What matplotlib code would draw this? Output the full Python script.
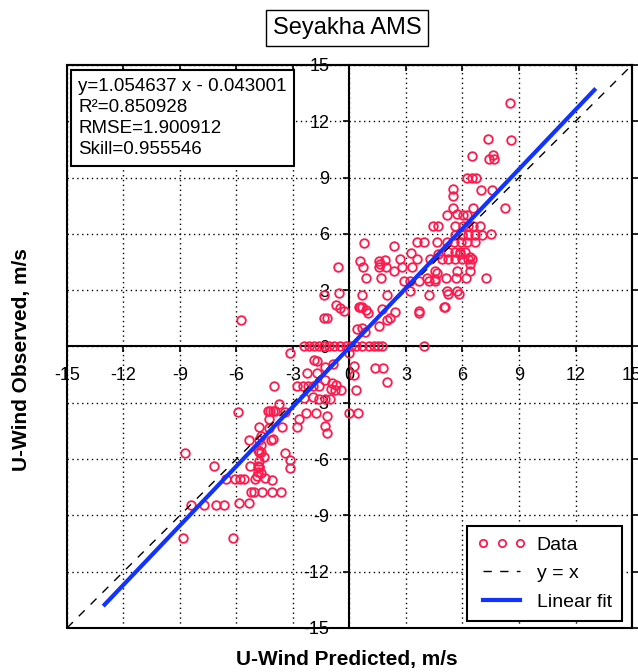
import matplotlib
matplotlib.use("Agg")
import matplotlib.pyplot as plt
from matplotlib.patches import Rectangle

plt.rcParams['font.family'] = ['Liberation Sans', 'DejaVu Sans']
plt.rcParams['axes.unicode_minus'] = False

# Predicted (x) and observed (y) U-wind values, m/s
predicted = [
    8.52, 7.34, 8.6, 6.51, 7.42, 7.64, 7.67, 6.23, 6.49, 6.72, 5.52, 5.52, 7.0, 7.57, 8.24,
    5.52, 6.58, 5.17, 5.7, 6.02, 6.26, 4.46, 4.72, 5.61, 6.02, 6.31, 6.58, 6.93,
    5.61, 5.96, 6.31, 6.67, 7.02, 7.5, 0.76, 2.38, 3.26,
    3.61, 3.93, 4.64, 5.2, 5.55, 5.9, 6.26, 6.67, 5.25, 5.61, 5.87, 6.14, 6.4, 4.72, 5.87,
    0.58, 1.58, 1.9, 2.7, 3.58, 4.25, 4.9, 5.25, 5.6, 5.96, 6.31, 6.49,
    0.7, 1.62, 1.58, 1.95, 2.35, 2.79, 3.32, -0.62,
    6.4, 6.4, 5.7, 4.64, 4.55,
    0.85, 1.68, 2.87, 3.23, 3.67, 4.11, 4.55, 4.55, 4.2, 5.1, 5.65, 6.17, 7.25,
    3.23, 4.2, 5.17, 5.25, 5.73, 5.84, 5.03, 3.7,
    0.67, 1.99, 0.56, 0.88, 0.97, 1.7, 2.43, 2.0, 2.17, 1.55, 0.38, 0.65, 0.8,
    0.48, 0.69, 3.7, 5.06,
    -0.7, -0.52, -0.3, -1.36, -0.57, -1.36, -1.18, -5.78,
    -2.42, -2.15, -1.89, -1.62, -1.36, -1.09, -0.8, -0.5, -0.2, 0.1, 0.35, 0.65, 1.05, 1.3,
    1.52, 1.75, 3.94,
    -3.17, 0.0, -1.89, -1.71, -1.28, -0.9, 0.23, 0.23, 1.34, 1.77, 1.99,
    -2.24, -1.75, -1.3, -0.95, -0.7, -1.6, -1.0, -0.75, -0.45, 0.32,
    -2.77, -2.47, -2.19, -1.94, -4.0,
    -2.4, -1.95, -1.6, -1.3, -1.05, -3.74,
    -4.35, -4.2, -4.08, -3.95, -3.4, -5.91, -2.33, -1.8, -1.22, -1.32, -1.22, 0.0, 0.45,
    -2.68, -4.28, -4.8, -4.25, -3.58, -2.81,
    -5.35, -4.8, -4.7, -4.15, -4.05, -4.72,
    -4.8, -4.88, -4.71, -4.53, -4.8, -4.88, -4.8, -5.27, -4.88, -4.71,
    -3.45, -3.16, -3.16, -8.72, -7.17, -4.83,
    -6.56, -6.08, -5.8, -5.6, -5.0, -4.9, -4.47, -4.1,
    -5.24, -5.06, -4.62, -4.09, -3.65, -5.88, -5.35,
    -8.4, -7.72, -7.09, -6.65, -8.86, -6.2,
]
observed = [
    13.0, 11.07, 10.98, 10.17, 10.0, 10.18, 10.0, 8.98, 8.98, 8.98, 8.37, 8.01, 8.33, 8.33, 7.37,
    7.39, 7.36, 7.0, 7.07, 7.0, 7.0, 6.43, 6.43, 6.43, 6.43, 6.43, 6.43, 6.43,
    5.94, 5.94, 5.94, 5.94, 5.94, 5.98, 5.52, 5.34, 4.99,
    5.55, 5.55, 5.55, 5.55, 5.55, 5.55, 5.55, 5.55, 5.05, 5.05, 5.05, 5.05, 4.77, 4.92, 4.92,
    4.58, 4.58, 4.62, 4.65, 4.65, 4.65, 4.65, 4.65, 4.65, 4.65, 4.65, 4.65,
    4.22, 4.39, 4.22, 4.22, 4.03, 4.21, 4.21, 4.24,
    4.39, 4.03, 4.03, 3.94, 4.03,
    3.64, 3.64, 3.5, 3.5, 3.47, 3.67, 3.59, 3.5, 3.5, 3.66, 3.66, 3.66, 3.64,
    2.97, 2.76, 2.97, 2.8, 2.97, 2.8, 2.08, 1.87,
    2.76, 2.76, 2.12, 1.95, 1.8, 2.02, 1.82, 1.42, 1.52, 1.11, 0.94, 0.97, 0.78,
    2.1, 2.1, 1.8, 2.1,
    2.2, 2.06, 1.9, 2.76, 2.83, 1.52, 1.52, 1.42,
    0, 0, 0, 0, 0, 0, 0, 0, 0, 0, 0, 0, 0, 0,
    0, 0, 0,
    -0.35, -0.37, -0.7, -0.78, -1.1, -0.92, -1.06, -1.54, -1.13, -1.13, -1.9,
    -1.42, -1.42, -1.78, -1.92, -2.06, -2.12, -2.25, -2.3, -2.3, -2.33,
    -2.12, -2.12, -2.12, -2.12, -2.12,
    -2.75, -2.67, -2.78, -2.8, -2.8, -3.06,
    -3.42, -3.42, -3.42, -3.42, -3.49, -3.5, -3.52, -3.52, -3.71, -4.26, -4.63, -3.52, -3.52,
    -3.84, -3.84, -4.28, -4.32, -4.28, -4.28,
    -4.98, -4.98, -4.75, -4.98, -4.95, -5.26,
    -5.61, -5.52, -5.6, -5.9, -6.1, -6.37, -6.4, -6.37, -6.67, -6.75,
    -5.68, -6.05, -6.49, -5.66, -6.37, -6.4,
    -7.07, -7.07, -7.07, -7.07, -7.07, -6.9, -7.03, -7.1,
    -7.75, -7.75, -7.75, -7.75, -7.75, -8.32, -8.32,
    -8.45, -8.44, -8.44, -8.44, -10.2, -10.2,
]

slope, intercept = 1.054637, -0.043001
stats_lines = ["y=1.054637 x - 0.043001", "R\u00b2=0.850928", "RMSE=1.900912", "Skill=0.955546"]
ticks = [-15, -12, -9, -6, -3, 0, 3, 6, 9, 12, 15]
fit_x = [-13, 13]

fig = plt.figure(figsize=(6.38, 6.72), dpi=100)
ax = fig.add_axes([0.105, 0.0655, 0.8856, 0.8378])

ax.set_xlim(-15, 15)
ax.set_ylim(-15, 15)
ax.set_xticks(ticks)
ax.set_yticks(ticks)
ax.grid(True, linestyle=(0, (1, 2.5)), color='black', linewidth=1.0)

ax.plot(predicted, observed, 'o', mfc='none', mec='#ff1a4d', ms=6.2, mew=1.3,
        label='Data', zorder=3)
ax.plot([-15, 15], [-15, 15], '--', color='black', lw=1.0, dashes=(6, 6),
        label='y = x', zorder=4)
ax.plot(fit_x, [slope * v + intercept for v in fit_x], '-', color='#1133ff', lw=3,
        label='Linear fit', zorder=5)

for s in ['left', 'bottom']:
    ax.spines[s].set_position('zero')
    ax.spines[s].set_linewidth(1.5)
for s in ['top', 'right']:
    ax.spines[s].set_linewidth(1.5)
ax.add_patch(Rectangle((0, 0), 1, 1, transform=ax.transAxes, fill=False,
                       ec='black', lw=1.5, zorder=6, clip_on=False))

ax.tick_params(axis='both', which='both', direction='out', length=4.5, width=1.2,
               labelsize=13, pad=10)
ax.tick_params(top=True, right=True)
for t in ax.xaxis.get_major_ticks():
    t.tick2line.set_marker(3)
for t in ax.yaxis.get_major_ticks():
    t.tick2line.set_marker(1)

ax.text(0.02, 0.977, "\n".join(stats_lines), transform=ax.transAxes, fontsize=13.5,
        va='top', ha='left', linespacing=1.32, zorder=7,
        bbox=dict(boxstyle='square,pad=0.4', fc='white', ec='black', lw=1.5))

leg = ax.legend(loc='lower right', bbox_to_anchor=(0.983, 0.012), borderaxespad=0,
                fontsize=14, numpoints=3, markerscale=0.85, handlelength=2.5,
                labelspacing=0.55, handletextpad=0.55, borderpad=0.55,
                fancybox=False, framealpha=1, edgecolor='black')
leg.get_frame().set_linewidth(1.5)
leg.set_zorder(8)

fig.text(0.544, 1 - 28 / 672, 'Seyakha AMS', ha='center', va='center', fontsize=17,
         bbox=dict(boxstyle='square,pad=0.3', fc='white', ec='black', lw=1))
fig.text(0.543, 1 - 660 / 672, 'U-Wind Predicted, m/s', ha='center', va='center',
         fontsize=15, fontweight='bold')
fig.text(22 / 638, 0.465, 'U-Wind Observed, m/s', ha='center', va='center',
         fontsize=15, fontweight='bold', rotation=90)

fig.savefig('out.png', dpi=100)
